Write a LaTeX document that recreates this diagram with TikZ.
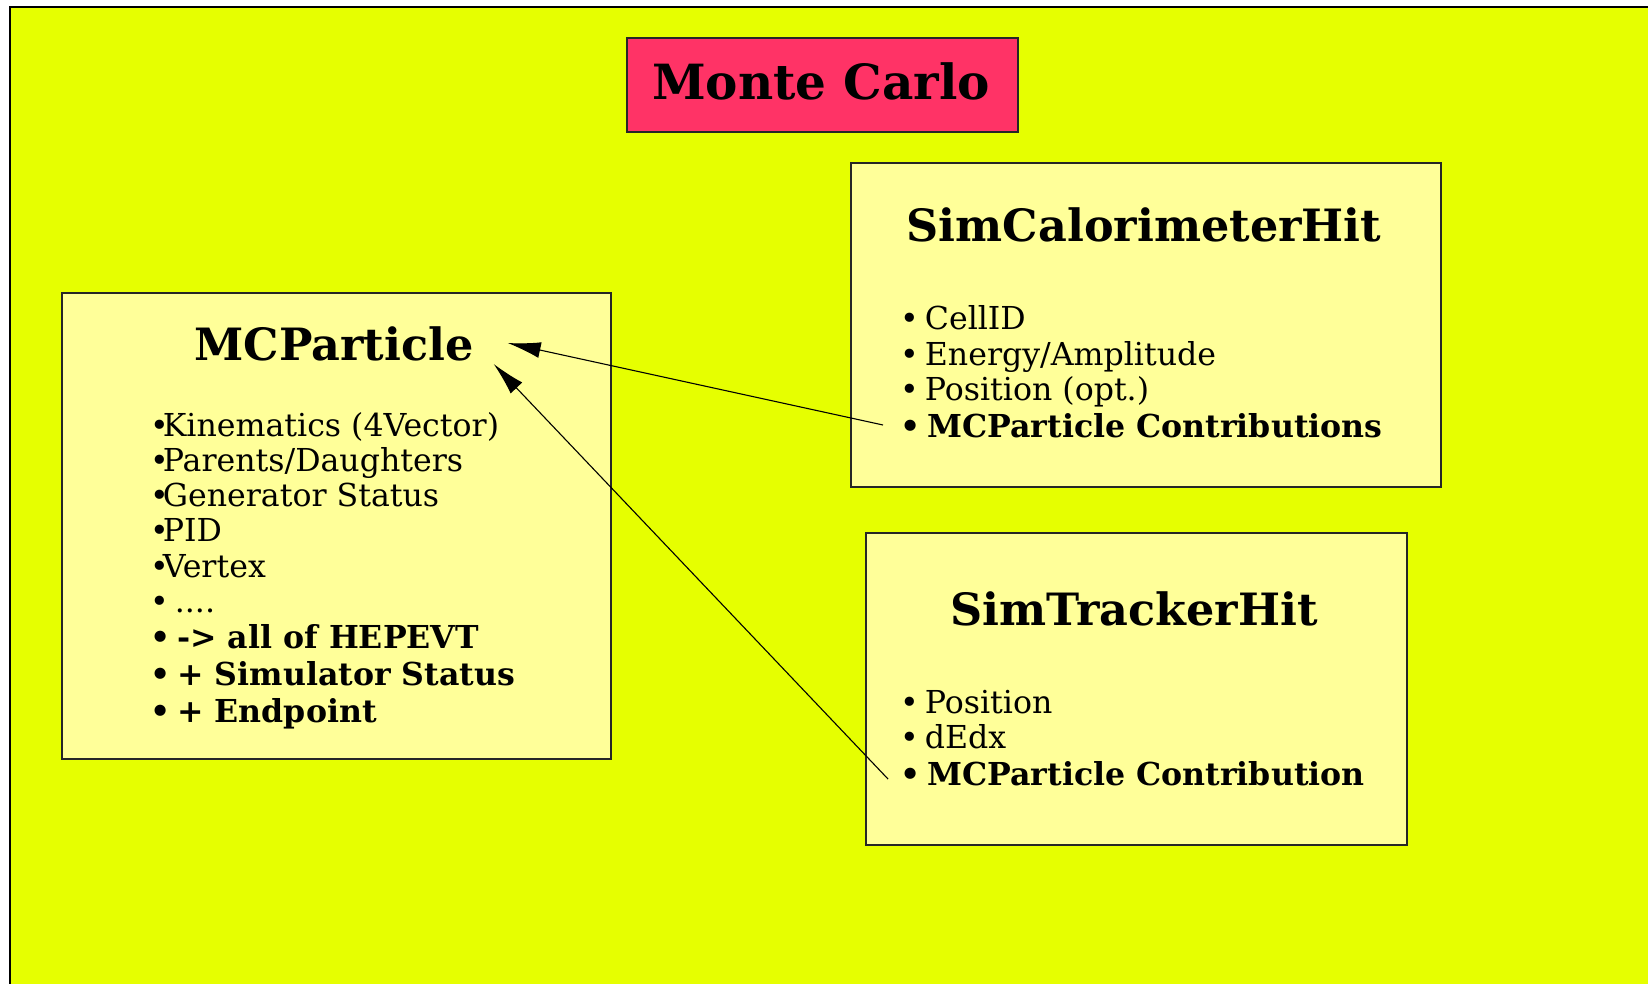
\documentclass[tikz,border=0pt]{standalone}
\usepackage{fontspec}
\setmainfont{DejaVu Serif}
\usetikzlibrary{arrows.meta}
\definecolor{bgyellow}{RGB}{230,255,0}
\definecolor{paleyellow}{RGB}{255,255,153}
\definecolor{titlepink}{RGB}{255,51,102}
\newcommand{\tightbullet}{•\kern-6pt}
\newcommand{\spacedbullet}{•\kern-4pt\ }
\begin{document}
\begin{tikzpicture}[x=1pt,y=-1pt,
  panel/.style={draw=black!85, line width=1.6pt, fill=paleyellow, anchor=north west, inner sep=0pt},
  titlebox/.style={draw=black!85, line width=1.6pt, fill=titlepink, anchor=north west, inner sep=0pt},
  heading/.style={inner sep=0pt, anchor=base, font=\fontsize{44.5}{50}\selectfont\bfseries},
  item/.style={inner sep=0pt, anchor=base west, font=\fontsize{31.6}{35}\selectfont},
  bolditem/.style={item, font=\fontsize{31.6}{35}\selectfont\bfseries},
  link/.style={draw=black, line width=1.1pt, -{Latex[length=33pt,width=16pt]}}]
\useasboundingbox (0,0) rectangle (1648,984);
\clip (0,0) rectangle (1648,984);
% page and frame
\fill[white] (0,0) rectangle (1648,984);
\draw[fill=bgyellow, line width=1.5pt] (10,7) rectangle (1670,1000);

% title
\node[titlebox, minimum width=391pt, minimum height=94pt] (mcbox) at (626,37) {};
\node[heading, font=\fontsize{48.5}{54}\selectfont\bfseries] (mctitle) at (821,100) {Monte Carlo};

% MCParticle panel
\node[panel, minimum width=549pt, minimum height=466pt] (partbox) at (61,292) {};
\node[heading] (parttitle) at (334,360) {MCParticle};
\node[item] (p1) at (150,436) {\tightbullet Kinematics (4Vector)};
\node[item] (p2) at (150,471) {\tightbullet Parents/Daughters};
\node[item] (p3) at (150,506) {\tightbullet Generator Status};
\node[item] (p4) at (150,541) {\tightbullet PID};
\node[item] (p5) at (150,577) {\tightbullet Vertex};
\node[item] (p6) at (150,612) {\spacedbullet ....};
\node[bolditem] (p7) at (150,648) {\spacedbullet -> all of HEPEVT};
\node[bolditem] (p8) at (150,685) {\spacedbullet + Simulator Status};
\node[bolditem] (p9) at (150,722) {\spacedbullet + Endpoint};

% SimCalorimeterHit panel
\node[panel, minimum width=590pt, minimum height=324pt] (calbox) at (850,162) {};
\node[heading] (caltitle) at (1144,242) {SimCalorimeterHit};
\node[item] (c1) at (900,329) {\spacedbullet CellID};
\node[item] (c2) at (900,365) {\spacedbullet Energy/Amplitude};
\node[item] (c3) at (900,400) {\spacedbullet Position (opt.)};
\node[bolditem] (c4) at (900,437) {\spacedbullet MCParticle Contributions};

% SimTrackerHit panel
\node[panel, minimum width=541pt, minimum height=312pt] (trkbox) at (865,532) {};
\node[heading] (trktitle) at (1134,625) {SimTrackerHit};
\node[item] (t1) at (900,713) {\spacedbullet Position};
\node[item] (t2) at (900,748) {\spacedbullet dEdx};
\node[bolditem] (t3) at (900,785) {\spacedbullet MCParticle Contribution};

% relations back to the particle
\coordinate (calfrom) at ([xshift=-17pt,yshift=12pt]c4.base west);
\coordinate (trkfrom) at ([xshift=-12pt,yshift=6pt]t3.base west);
\coordinate (parttipA) at ([xshift=34pt,yshift=17pt]parttitle.base east);
\coordinate (parttipB) at ([xshift=20pt,yshift=-4pt]parttitle.base east);
\draw[link] (calfrom) -- (parttipA);
\draw[link] (trkfrom) -- (parttipB);
\end{tikzpicture}
\end{document}
